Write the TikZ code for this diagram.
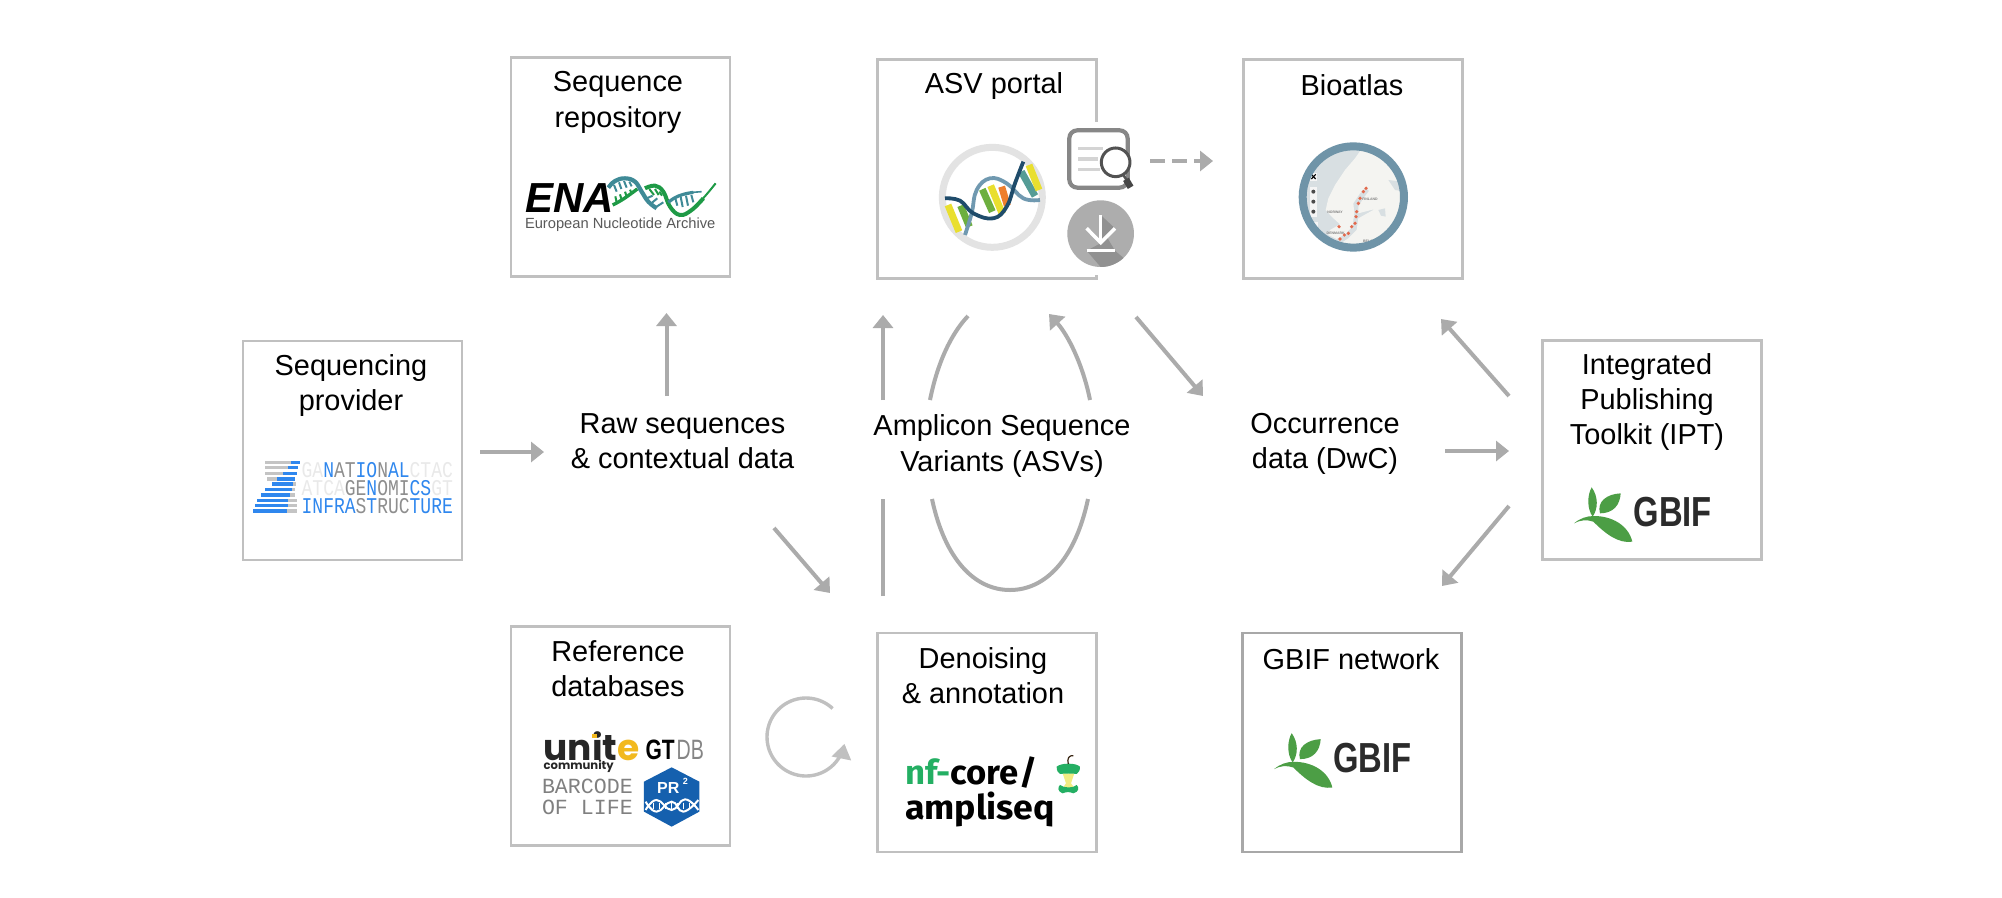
\documentclass[tikz,border=0pt]{standalone}
\usepackage{fontspec}
\usetikzlibrary{arrows.meta}
\setmainfont{Liberation Sans}
\newfontfamily\monof{Liberation Mono}
\newfontfamily\popf{Poppins}
\newfontfamily\firaf{Fira Sans}
\newcommand\fsz[2]{\fontsize{#1pt}{#2pt}\selectfont}
\normallineskiplimit=-100pt
\lineskiplimit=-100pt
\definecolor{boxg}{HTML}{C0C0C0}
\definecolor{boxd}{HTML}{A8A8A8}
\definecolor{arrg}{HTML}{ABABAB}
\definecolor{ngib}{HTML}{2F87EE}
\definecolor{ngig}{HTML}{8E8E8E}
\definecolor{ngil}{HTML}{E9E9E9}
\definecolor{ngibar}{HTML}{C4C4C4}
\definecolor{enat}{HTML}{3F8A97}
\definecolor{enag}{HTML}{1E9A46}
\definecolor{dnad}{HTML}{1F4C6B}
\definecolor{dnal}{HTML}{7099B0}
\definecolor{dnay}{HTML}{E9DF2F}
\definecolor{dnag}{HTML}{6DAF3F}
\definecolor{dnao}{HTML}{EE7F2D}
\definecolor{dnat}{HTML}{559C96}
\definecolor{mapr}{HTML}{6F94A8}
\definecolor{maps}{HTML}{D8DFE2}
\definecolor{mapl}{HTML}{F4F4F1}
\definecolor{mapd}{HTML}{E2694C}
\definecolor{unity}{HTML}{F2B91E}
\definecolor{unitk}{HTML}{262626}
\definecolor{prb}{HTML}{1560AE}
\definecolor{nfg}{HTML}{24AF63}
\definecolor{gbifg}{HTML}{4C9E45}
\definecolor{gbifk}{HTML}{2B2B2B}
\tikzset{
  panel/.style={draw=boxg,line width=2.9pt,fill=white,minimum width=219pt,minimum height=219pt,inner sep=0pt,outer sep=0pt},
  lab/.style={align=center,inner sep=0pt,outer sep=0pt,font=\fsz{28.9}{35.2},text=black},
  flow/.style={draw=arrg,line width=4pt,-{Triangle[length=13pt,width=20pt]}},
  flowplain/.style={draw=arrg,line width=4pt},
  zoomed/.style n args={3}{shift={(#1,#2)},x=#3pt,y=-#3pt},
  logotext/.style={inner sep=0pt,outer sep=0pt},
}
\newcommand\scaledx[2]{\scalebox{#1}[1]{#2}}
\newcommand\gbiflogo[3]{%
\begin{scope}[zoomed={#1}{#2}{0.3333}]
  \fill[gbifg] (65,22) .. controls (52,45) and (50,85) .. (68,110) .. controls (85,85) and (85,50) .. (65,22) -- cycle;
  \fill[gbifg] (152,40) .. controls (110,42) and (80,65) .. (90,100) .. controls (130,100) and (150,75) .. (152,40) -- cycle;
  \fill[gbifg] (12,130) .. controls (30,115) and (50,108) .. (72,108) .. controls (125,108) and (175,135) .. (187,185) .. controls (145,192) and (105,160) .. (70,125) .. controls (50,118) and (30,120) .. (12,130) -- cycle;
  \node[logotext,anchor=base west,text=gbifk,font=\bfseries\fsz{42}{42}] (#3) at (190.5,140) {\scaledx{0.78}{GBIF}};
\end{scope}}
\begin{document}
\begin{tikzpicture}[x=1pt,y=-1pt]
\useasboundingbox (0,0) rectangle (2002,897);
\fill[white] (0,0) rectangle (2002,897);

% panels
\node[panel] (seqprov) at (352.5,450.5) {};
\node[panel] (seqrepo) at (620.5,167) {};
\node[panel] (portal) at (987.3,169.4) {};
\node[panel] (atlas) at (1353,169) {};
\node[panel] (refdb) at (620.5,736) {};
\node[panel] (denoise) at (987.3,742.5) {};
\node[panel] (ipt) at (1652,450) {};
\node[panel,draw=boxd] (gbifnet) at (1352,742.5) {};

% labels
\node[lab] (tseqprov) at (351,385.5) {Sequencing\\provider};
\node[lab] (tseqrepo) at (618,102.5) {Sequence\\repository};
\node[lab] (tportal) at (994,86) {ASV portal};
\node[lab] (tatlas) at (1352,85) {Bioatlas};
\node[lab] (traw) at (682.5,441.5) {Raw sequences\\\& contextual data};
\node[lab] (tasv) at (1002,446) {Amplicon Sequence\\Variants (ASVs)};
\node[lab] (tocc) at (1325,444) {Occurrence\\data (DwC)};
\node[lab] (tipt) at (1647,402) {Integrated\\Publishing\\Toolkit (IPT)};
\node[lab] (tgbif) at (1351,659) {GBIF network};
\node[lab] (tref) at (618,668.5) {Reference\\databases};
\node[lab] (tden) at (983,676) {Denoising\\\& annotation};

% connector ends
\coordinate (a1s) at (480,452); \coordinate (a1e) at (544,452);
\coordinate (a2s) at (666.5,396); \coordinate (a2e) at (666.5,313);
\coordinate (a3s) at (774,528); \coordinate (a3e) at (830,593);
\coordinate (a4s) at (883,400); \coordinate (a4e) at (883,315);
\coordinate (a5s) at (883,596); \coordinate (a5e) at (883,499);
\coordinate (a6s) at (930,400); \coordinate (a6e) at (968,316);
\coordinate (a7s) at (1090,400); \coordinate (a7e) at (1049,314);
\coordinate (a8s) at (932,499); \coordinate (a8m) at (1010,590); \coordinate (a8e) at (1088,499);
\coordinate (a9s) at (1136,317); \coordinate (a9e) at (1203,396);
\coordinate (a10s) at (1150,161); \coordinate (a10e) at (1213,161);
\coordinate (a11s) at (1445,451); \coordinate (a11e) at (1509,451);
\coordinate (a12s) at (1509,396); \coordinate (a12e) at (1441,319);
\coordinate (a13s) at (1509,506); \coordinate (a13e) at (1442,586);

\draw[flow] (a1s) -- (a1e);
\draw[flow] (a2s) -- (a2e);
\draw[flow] (a3s) -- (a3e);
\draw[flow] (a4s) -- (a4e);
\draw[flowplain] (a5s) -- (a5e);
\draw[flowplain] (a6s) .. controls (937,365) and (950,335) .. (a6e);
\draw[flow] (a7s) .. controls (1083,365) and (1068,335) .. (a7e);
\draw[flowplain] (a8s) .. controls (945,560) and (975,590) .. (a8m) .. controls (1045,590) and (1075,560) .. (a8e);
\draw[flow] (a9s) -- (a9e);
\draw[flow,dashed,dash pattern=on 15pt off 7pt] (a10s) -- (a10e);
\draw[flow] (a11s) -- (a11e);
\draw[flow] (a12s) -- (a12e);
\draw[flow] (a13s) -- (a13e);
% loop
\draw[flow,line width=3.4pt,draw=boxg,-{Triangle[length=15pt,width=19pt]}] plot[domain=-47:-350,samples=70,smooth] ({806+39*cos(\x)},{737+39*sin(\x)});

% NGI logo
\begin{scope}[zoomed={230}{320}{0.3333}]
  \foreach \yy/\g/\b/\r in {428/105/183/210,443/105/175/205,461/105/160/200,477/110/142/195}{
    \fill[ngibar] (\g,\yy-5) rectangle (\b,\yy+5);
    \fill[ngib] (\b,\yy-5) rectangle (\r,\yy+5);
  }
  \foreach \yy/\b/\g/\r in {492/125/190/197,508/105/185/195,525/93/180/195,541/82/175/200,557/75/175/200,573/68/172/200}{
    \fill[ngib] (\b,\yy-5) rectangle (\g,\yy+5);
    \fill[ngibar] (\g,\yy-5) rectangle (\r,\yy+5);
  }
  \node[logotext,anchor=west,align=left,font=\monof\fsz{22.5}{17.9}] (ngi) at (215,504) {\scaledx{0.8}{\textcolor{ngil}{GA}\textcolor{ngib}{N}\textcolor{ngig}{AT}\textcolor{ngib}{IO}\textcolor{ngig}{N}\textcolor{ngib}{AL}\textcolor{ngil}{CTAC}}\\ \scaledx{0.8}{\textcolor{ngil}{ATCA}\textcolor{ngig}{GE}\textcolor{ngib}{N}\textcolor{ngig}{OMI}\textcolor{ngib}{CS}\textcolor{ngil}{GT}}\\ \scaledx{0.8}{\textcolor{ngib}{INFRA}\textcolor{ngig}{S}\textcolor{ngib}{T}\textcolor{ngig}{RUC}\textcolor{ngib}{TURE}}};
\end{scope}

% ENA logo
\begin{scope}[zoomed={500}{40}{0.3333}]
  \node[logotext,anchor=base west,font=\bfseries\itshape\fsz{42}{42}] (enaname) at (75,518) {ENA};
  \node[logotext,anchor=base west,text=black!65,font=\fsz{14.7}{16}] (enasub) at (75,565) {European Nucleotide Archive};
\end{scope}
\begin{scope}[zoomed={600}{165}{0.3333}]
  \foreach \xa/\ya/\xb/\yb in {42/60/50/80,57/52/64/72,72/48/80/68,88/50/95/64}{ \draw[enat,line width=2pt] (\xa,\ya) -- (\xb,\yb); }
  \foreach \xa/\ya/\xb/\yb in {50/112/46/94,65/105/60/88,80/95/75/80,95/85/90/74}{ \draw[enag,line width=2pt] (\xa,\ya) -- (\xb,\yb); }
  \foreach \xa/\ya/\xb/\yb in {148/72/162/90,165/72/176/90,178/80/186/92}{ \draw[enag,line width=2pt] (\xa,\ya) -- (\xb,\yb); }
  \foreach \xa/\ya/\xb/\yb in {140/100/158/92,150/118/172/100,165/128/190/112}{ \draw[enat,line width=2pt] (\xa,\ya) -- (\xb,\yb); }
  \foreach \xa/\ya/\xb/\yb in {226/100/232/122,242/95/248/126,258/92/264/122,274/90/280/112}{ \draw[enat,line width=2pt] (\xa,\ya) -- (\xb,\yb); }
  \draw[enag,line width=3.4pt] plot[smooth,tension=.7] coordinates {(38,120) (70,102) (112,72)};
  \draw[enag,line width=4pt] plot[smooth,tension=.7] coordinates {(135,70) (165,62) (190,80) (210,125) (240,150) (275,135) (310,100)};
  \draw[enag,line width=2pt] plot[smooth,tension=.7] coordinates {(305,105) (325,82) (347,55)};
  \draw[enat,line width=4.2pt] plot[smooth,tension=.7] coordinates {(25,68) (45,48) (75,40) (105,50) (125,80) (145,110) (170,130)};
  \draw[enat,line width=3.2pt] plot[smooth,tension=.7] coordinates {(205,112) (225,98) (250,88) (280,82)};
  \draw[enat,line width=1.6pt] (278,82) -- (305,80);
\end{scope}

% DNA circle and portal icons
\begin{scope}[zoomed={860}{40}{0.3333}]
  \fill[white] (697,245) rectangle (730,705);
  \draw[black!11,line width=7pt] (397,472) circle (150);
  \foreach \c/\xa/\ya/\xb/\yb in {dnay/264/495/297/575,dnag/302/497/328/560,dnag/367/448/397/515,dnay/392/437/427/522,dnao/425/440/442/497,dnat/484/395/525/468,dnay/507/375/537/450}{
    \draw[\c,line width=7pt] (\xa,\ya) -- (\xb,\yb);
  }
  \draw[dnal,line width=3.8pt] plot[smooth,tension=.7] coordinates {(315,585) (335,520) (350,450) (390,415) (440,430) (490,475) (540,480)};
  \draw[dnad,line width=3.8pt] plot[smooth,tension=.7] coordinates {(255,475) (300,482) (340,520) (400,535) (440,500) (465,430) (490,365)};
  \draw[black!47,line width=4.2pt,fill=white,rounded corners=8pt] (628,271) rectangle (803,443);
  \foreach \yy/\xx in {325/730,357/715,388/720}{ \draw[black!17,line width=3.5pt] (655,\yy) -- (\xx,\yy); }
  \draw[black!68,line width=3pt,fill=white] (767,367) circle (43);
  \draw[black!68,line width=2.5pt] (790,405) -- (800,420);
  \draw[black!72,line width=6.5pt] (798,418) -- (812,442);
  \fill[black!32] (722,581) circle (100);
  \begin{scope}
    \clip (722,581) circle (100);
    \fill[black!43] (722,525) -- (765,565) -- (740,590) -- (765,632) -- (822,681) -- (722,681) -- (680,632) -- (722,610) -- cycle;
  \end{scope}
  \draw[white,line width=3.5pt] (722,525) -- (722,605);
  \draw[white,line width=3.5pt] (680,565) -- (722,608) -- (765,565);
  \draw[white,line width=3.5pt] (680,632) -- (765,632);
\end{scope}

% Map
\begin{scope}[zoomed={1295}{135}{0.3333}]
  \begin{scope}
    \clip (175,186) circle (158);
    \fill[maps] (0,10) rectangle (350,360);
    \fill[mapl] (215,20) -- (180,70) -- (150,105) -- (120,150) -- (100,190) -- (92,225) -- (110,245) -- (135,268) -- (105,285) -- (100,300) -- (125,312) -- (150,298) -- (172,275) -- (178,235) -- (175,205) -- (195,175) -- (212,158) -- (222,168) -- (205,190) -- (190,215) -- (190,235) -- (240,222) -- (190,250) -- (185,285) -- (160,310) -- (130,330) -- (130,360) -- (345,360) -- (345,20) -- cycle;
    \fill[maps] (280,135) -- (320,140) -- (330,170) -- (300,165) -- cycle;
    \fill[maps] (250,225) -- (270,220) -- (272,245) -- (258,242) -- cycle;
    \fill[white!96!black] (45,113) rectangle (67,137);
    \fill[white!96!black] (45,155) rectangle (67,245);
    \fill[white!96!black] (50,262) rectangle (70,295);
    \draw[black,line width=1.1pt] (49,118) -- (62,132) (49,132) -- (62,118);
    \foreach \yy in {170,200,230}{ \fill[black!70] (55,\yy) circle (6); }
    \foreach \p in {(213,160),(205,170),(195,190),(190,205),(185,230),(183,245),(180,265),(170,275),(160,295),(148,300),(135,312),(132,275)}{ \fill[mapd] \p circle (5.5); }
    \node[logotext,text=black!50,font=\bfseries\fsz{3.5}{4}] (mfi) at (225,192) {FINLAND};
    \node[logotext,text=black!50,font=\bfseries\fsz{3.5}{4}] (mno) at (120,232) {NORWAY};
    \node[logotext,text=black!50,font=\bfseries\fsz{3.5}{4}] (mde) at (122,295) {DENMARK};
    \node[logotext,text=black!50,font=\bfseries\fsz{3.5}{4}] (mpo) at (180,335) {POLAND};
    \node[logotext,text=black!50,font=\bfseries\fsz{3.5}{4}] (mbe) at (230,320) {BELARUS};
  \end{scope}
  \draw[mapr,line width=8pt] (175,186) circle (152);
\end{scope}

% Reference logos
\begin{scope}[zoomed={500}{610}{0.3333}]
  \node[logotext,anchor=base west,align=left,text=unitk,font=\popf\bfseries\fsz{36}{9.3}] (unite) at (131,478) {unit\textcolor{unity}{e}\\ {\fsz{11.6}{9.3}community}};
  \fill[unity] (276,372) rectangle (291,384);
  \node[logotext,anchor=base west,text=black,font=\bfseries\fsz{28}{28}] (gt) at (437,450) {\scaledx{0.75}{GT}};
  \node[logotext,anchor=base west,text=black!48,font=\fsz{28}{28}] (db) at (530,450) {\scaledx{0.7}{DB}};
  \node[logotext,anchor=base west,align=left,text=black!50,font=\monof\fsz{21.6}{21.7}] (barc) at (126,615) {BARCODE\\OF LIFE};
  \fill[prb] (515,472) -- (598,515) -- (598,605) -- (515,650) -- (432,605) -- (432,515) -- cycle;
  \node[logotext,anchor=base,text=white,font=\bfseries\fsz{16}{16}] (prn) at (505,552) {PR};
  \node[logotext,anchor=base,text=white,font=\bfseries\fsz{9}{9}] (prs) at (556,525) {2};
  \draw[white,line width=2pt] plot[smooth,tension=.8] coordinates {(437,575) (470,605) (515,575) (550,605) (595,570)};
  \draw[white,line width=2pt] plot[smooth,tension=.8] coordinates {(437,600) (470,570) (515,600) (555,568) (595,600)};
  \foreach \xx in {462,478,498,515,533,552,570}{ \draw[white,line width=1pt] (\xx,578) -- (\xx,598); }
\end{scope}

% nf-core logo
\begin{scope}[zoomed={860}{610}{0.3333}]
  \node[logotext,anchor=base west,font=\firaf\bfseries\fsz{34}{34}] (nfc) at (135,525) {\scaledx{1.02}{\textcolor{nfg}{nf-}core/}};
  \node[logotext,anchor=base west,font=\firaf\bfseries\fsz{34}{34}] (ampl) at (135,630) {\scaledx{1.05}{ampliseq}};
  \begin{scope}[shift={(8,0)}]
  \fill[dnay!60!white] (600,490) -- (635,490) -- (625,520) -- (636,535) -- (600,535) -- (610,520) -- cycle;
  \fill[nfg] (582,470) .. controls (595,458) and (640,458) .. (652,470) .. controls (652,482) and (648,488) .. (642,492) .. controls (632,490) and (605,490) .. (592,492) .. controls (586,488) and (582,482) .. (582,470) -- cycle;
  \fill[nfg] (592,525) .. controls (605,535) and (632,535) .. (642,525) .. controls (650,532) and (650,545) .. (632,550) .. controls (620,545) and (612,545) .. (600,550) .. controls (585,545) and (584,532) .. (592,525) -- cycle;
  \draw[black!70!brown,line width=1.2pt] (617,462) .. controls (612,445) and (620,435) .. (632,437);
  \end{scope}
\end{scope}

% GBIF logos
\gbiflogo{1570}{480}{gbifa}
\gbiflogo{1270}{725.8}{gbifb}
\end{tikzpicture}
\end{document}
